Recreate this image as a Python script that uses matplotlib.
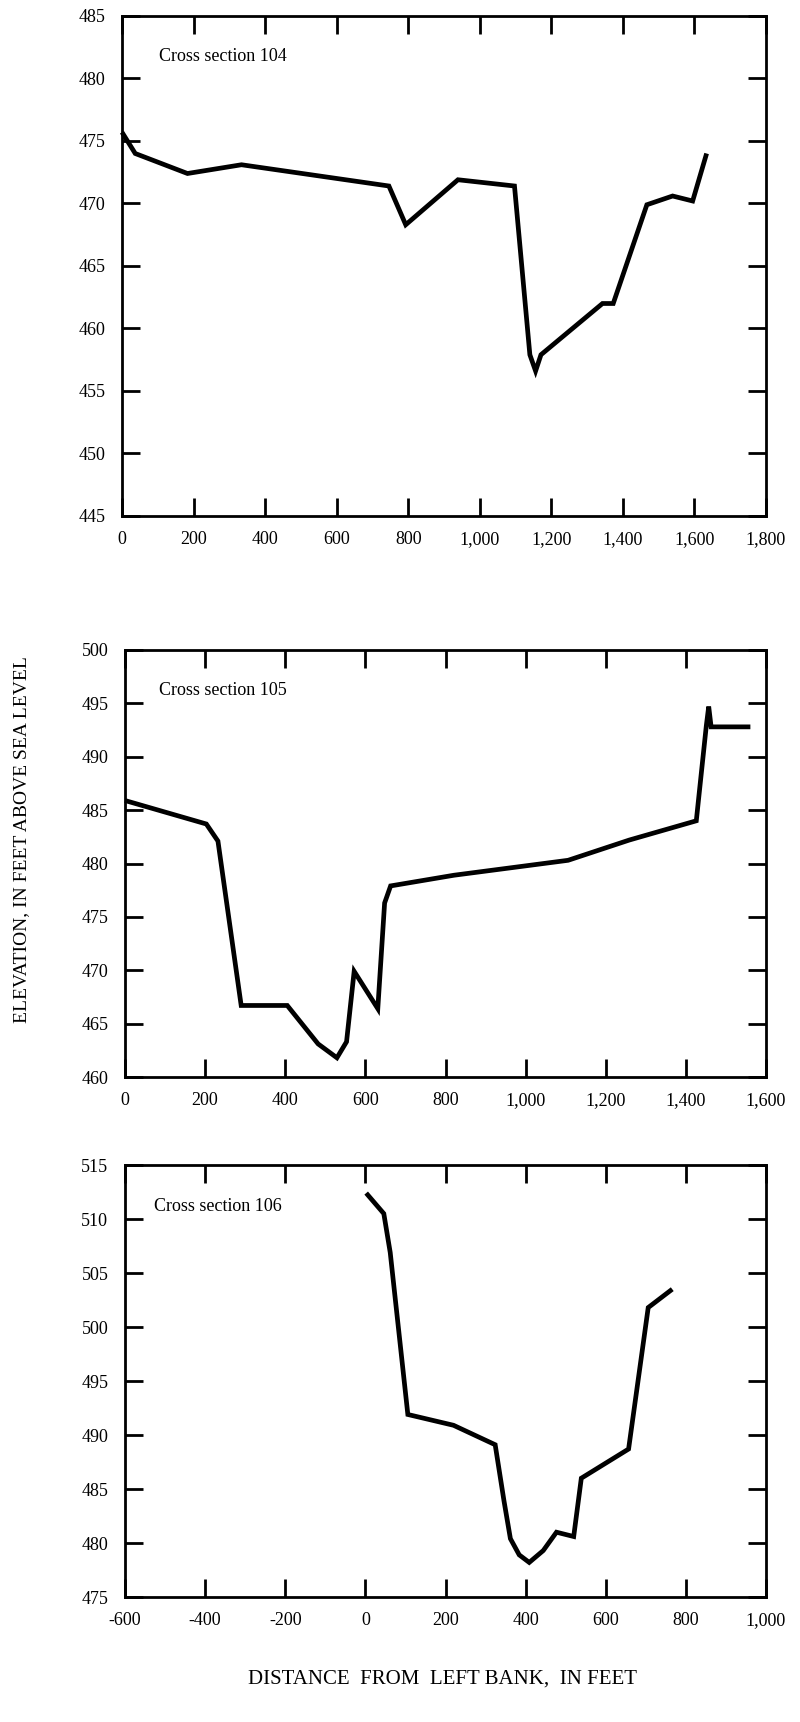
import matplotlib
matplotlib.use("Agg")
import matplotlib.pyplot as plt
from matplotlib.ticker import FixedLocator, FuncFormatter

plt.rcParams["font.family"] = ["Liberation Serif", "DejaVu Serif"]

# Cross section 104
dist_104 = [0, 37, 183, 334, 746, 793, 939, 1097, 1140, 1156, 1171, 1343, 1373, 1467, 1539, 1595, 1634]
elev_104 = [475.7, 474.0, 472.4, 473.1, 471.4, 468.3, 471.9, 471.4, 457.9, 456.6, 457.9, 462.0, 462.0, 469.9, 470.6, 470.2, 474.0]

# Cross section 105
dist_105 = [0, 203, 232, 290, 405, 482, 529, 553, 572, 631, 648, 663, 821, 1106, 1259, 1426, 1451, 1457, 1463, 1561]
elev_105 = [485.9, 483.7, 482.1, 466.7, 466.7, 463.1, 461.8, 463.3, 469.9, 466.4, 476.3, 477.9, 478.9, 480.3, 482.2, 484.0, 492.9, 494.7, 492.8, 492.8]

# Cross section 106
dist_106 = [2, 46, 62, 106, 220, 324, 346, 362, 384, 409, 444, 477, 520, 539, 657, 706, 766]
elev_106 = [512.4, 510.5, 506.9, 491.9, 490.9, 489.1, 483.9, 480.4, 478.9, 478.2, 479.3, 481.0, 480.6, 486.0, 488.7, 501.8, 503.5]

panels = [
    dict(x=dist_104, y=elev_104, title="Cross section 104",
         xlim=(0, 1800), xticks=list(range(0, 1801, 200)),
         ylim=(445, 485), yticks=list(range(445, 486, 5)),
         rect=[122 / 800, 1 - 516 / 1722, 644 / 800, 500 / 1722], tpos=(0.058, 0.918)),
    dict(x=dist_105, y=elev_105, title="Cross section 105",
         xlim=(0, 1600), xticks=list(range(0, 1601, 200)),
         ylim=(460, 500), yticks=list(range(460, 501, 5)),
         rect=[125 / 800, 1 - 1077 / 1722, 641 / 800, 427 / 1722], tpos=(0.053, 0.905)),
    dict(x=dist_106, y=elev_106, title="Cross section 106",
         xlim=(-600, 1000), xticks=list(range(-600, 1001, 200)),
         ylim=(475, 515), yticks=list(range(475, 516, 5)),
         rect=[125 / 800, 1 - 1597 / 1722, 641 / 800, 432 / 1722], tpos=(0.046, 0.903)),
]


def fmt_thousands(v, _pos):
    return f"{int(v):,}"


fig = plt.figure(figsize=(8.0, 17.22), dpi=100)

for p in panels:
    ax = fig.add_axes(p["rect"])
    ax.plot(p["x"], p["y"], color="black", lw=3.4, solid_joinstyle="miter",
            solid_capstyle="butt", clip_on=False)
    ax.set_xlim(*p["xlim"])
    ax.set_ylim(*p["ylim"])
    ax.xaxis.set_major_locator(FixedLocator(p["xticks"]))
    ax.yaxis.set_major_locator(FixedLocator(p["yticks"]))
    ax.xaxis.set_major_formatter(FuncFormatter(fmt_thousands))
    ax.tick_params(axis="both", which="major", direction="in", length=13, width=2,
                   top=True, right=True, labelsize=13)
    ax.tick_params(axis="x", pad=11)
    ax.tick_params(axis="y", pad=12)
    for s in ax.spines.values():
        s.set_linewidth(2)
    ax.text(p["tpos"][0], p["tpos"][1], p["title"], transform=ax.transAxes,
            fontsize=13, ha="left", va="center")

fig.text(22 / 800, 1 - 840 / 1722, "ELEVATION, IN FEET ABOVE SEA LEVEL",
         rotation=90, ha="center", va="center", fontsize=14)
fig.text(443 / 800, 1 - 1679 / 1722, "DISTANCE  FROM  LEFT BANK,  IN FEET",
         ha="center", va="center", fontsize=15)

fig.savefig("out.png", dpi=100, facecolor="white")
